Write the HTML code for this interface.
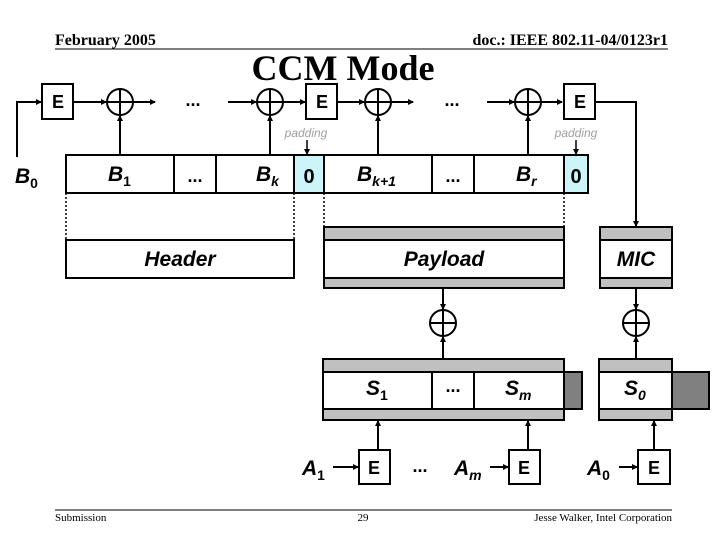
<!DOCTYPE html>
<html><head><meta charset="utf-8"><style>
html,body{margin:0;padding:0;background:#fff;}
svg{display:block;}
.s{font-family:"Liberation Sans",Arial,sans-serif;font-weight:bold;}
.r{font-family:"Liberation Serif",serif;}
</style></head><body>
<svg width="720" height="540" viewBox="0 0 720 540" xmlns="http://www.w3.org/2000/svg">
<defs><marker id="a" markerWidth="6" markerHeight="6" refX="5" refY="3" orient="auto" markerUnits="userSpaceOnUse"><path d="M0,0 L6,3 L0,6 z" fill="#000"/></marker></defs>
<text x="55" y="45" class="r" font-weight="bold" font-size="16">February 2005</text>
<text x="668" y="45" class="r" font-weight="bold" font-size="16" text-anchor="end">doc.: IEEE 802.11-04/0123r1</text>
<line x1="55" y1="49" x2="668" y2="49" stroke="#000" stroke-width="1"/>
<text x="343" y="80" class="r" font-weight="bold" font-size="36" text-anchor="middle">CCM Mode</text>

<g stroke="#000" stroke-width="2" fill="none">
<!-- top chain -->
<polyline points="17,157 17,102 41,102" marker-end="url(#a)"/>
<line x1="73" y1="102" x2="106" y2="102" marker-end="url(#a)"/>
<line x1="133" y1="102" x2="155" y2="102" marker-end="url(#a)"/>
<line x1="228" y1="102" x2="256" y2="102" marker-end="url(#a)"/>
<line x1="283" y1="102" x2="305" y2="102" marker-end="url(#a)"/>
<line x1="337" y1="102" x2="364" y2="102" marker-end="url(#a)"/>
<line x1="391" y1="102" x2="413" y2="102" marker-end="url(#a)"/>
<line x1="487" y1="102" x2="514" y2="102" marker-end="url(#a)"/>
<line x1="541" y1="102" x2="562" y2="102" marker-end="url(#a)"/>
<polyline points="595,102 636,102 636,226" marker-end="url(#a)"/>
<line x1="120" y1="155" x2="120" y2="116" marker-end="url(#a)"/>
<line x1="270" y1="155" x2="270" y2="116" marker-end="url(#a)"/>
<line x1="378" y1="155" x2="378" y2="116" marker-end="url(#a)"/>
<line x1="528" y1="155" x2="528" y2="116" marker-end="url(#a)"/>
<line x1="307" y1="140" x2="307" y2="154" stroke-width="1.5" marker-end="url(#a)"/>
<line x1="576" y1="140" x2="576" y2="154" stroke-width="1.5" marker-end="url(#a)"/>
<rect x="42" y="84" width="31" height="35" fill="#fff"/>
<rect x="306" y="84" width="31" height="35" fill="#fff"/>
<rect x="564" y="84" width="31" height="35" fill="#fff"/>
<circle cx="120" cy="102" r="13"/><path d="M107,102H133M120,89V115"/>
<circle cx="270" cy="102" r="13"/><path d="M257,102H283M270,89V115"/>
<circle cx="378" cy="102" r="13"/><path d="M365,102H391M378,89V115"/>
<circle cx="528" cy="102" r="13"/><path d="M515,102H541M528,89V115"/>
<!-- block row -->
<rect x="294" y="155" width="30" height="38" fill="#ccf5fa" stroke="none"/>
<rect x="564" y="155" width="24" height="38" fill="#ccf5fa" stroke="none"/>
<rect x="66" y="155" width="522" height="38"/>
<path d="M174,155V193M216,155V193M294,155V193M324,155V193M432,155V193M474,155V193M564,155V193"/>
</g>
<g stroke="#000" stroke-width="1.5" stroke-dasharray="2,2">
<path d="M66,193V240M294,193V240M324,193V227M564,193V227"/>
</g>
<g stroke="#000" stroke-width="2">
<rect x="66" y="240" width="228" height="38" fill="#fff"/>
<rect x="324" y="227" width="240" height="61" fill="#c0c0c0"/>
<rect x="324" y="240" width="240" height="38" fill="#fff"/>
<rect x="600" y="227" width="72" height="61" fill="#c0c0c0"/>
<rect x="600" y="240" width="72" height="38" fill="#fff"/>
<g fill="none">
<line x1="443" y1="288" x2="443" y2="309" marker-end="url(#a)"/>
<line x1="636" y1="288" x2="636" y2="309" marker-end="url(#a)"/>
<line x1="443" y1="359" x2="443" y2="337" marker-end="url(#a)"/>
<line x1="636" y1="359" x2="636" y2="337" marker-end="url(#a)"/>
<circle cx="443" cy="323" r="13"/><path d="M430,323H456M443,310V336"/>
<circle cx="636" cy="323" r="13"/><path d="M623,323H649M636,310V336"/>
</g>
<rect x="564" y="372" width="18" height="37" fill="#808080"/>
<rect x="672" y="372" width="37" height="37" fill="#808080"/>
<rect x="323" y="359" width="241" height="61" fill="#c0c0c0"/>
<rect x="323" y="372" width="241" height="37" fill="#fff"/>
<path d="M432,372V409M474,372V409"/>
<rect x="599" y="359" width="73" height="61" fill="#c0c0c0"/>
<rect x="599" y="372" width="73" height="37" fill="#fff"/>
<g fill="none">
<line x1="378" y1="450" x2="378" y2="421" marker-end="url(#a)"/>
<line x1="528" y1="450" x2="528" y2="421" marker-end="url(#a)"/>
<line x1="654" y1="450" x2="654" y2="421" marker-end="url(#a)"/>
<line x1="333" y1="467" x2="358" y2="467" marker-end="url(#a)"/>
<line x1="490" y1="467" x2="508" y2="467" marker-end="url(#a)"/>
<line x1="619" y1="467" x2="637" y2="467" marker-end="url(#a)"/>
</g>
<rect x="359" y="450" width="31" height="34" fill="#fff"/>
<rect x="509" y="450" width="31" height="34" fill="#fff"/>
<rect x="638" y="450" width="32" height="34" fill="#fff"/>
</g>

<g class="s" font-size="18" text-anchor="middle">
<text x="58" y="108">E</text><text x="322" y="108">E</text><text x="580" y="108">E</text>
<text x="374" y="474">E</text><text x="524" y="474">E</text><text x="654" y="474">E</text>
<text x="193" y="106">...</text><text x="452" y="106">...</text>
<text x="195" y="182">...</text><text x="453" y="182">...</text><text x="453" y="392">...</text>
<text x="420" y="472">...</text>
<text x="309" y="183" font-size="20">0</text><text x="576" y="183" font-size="20">0</text>
</g>
<g class="s" font-size="21" font-style="italic">
<text x="15" y="183">B<tspan font-size="14" font-style="normal" dy="5">0</tspan></text>
<text x="108" y="181">B<tspan font-size="14" font-style="normal" dy="5">1</tspan></text>
<text x="256" y="181">B<tspan font-size="14" dy="5">k</tspan></text>
<text x="357" y="181">B<tspan font-size="14" dy="5">k+1</tspan></text>
<text x="516" y="181">B<tspan font-size="14" dy="5">r</tspan></text>
<text x="366" y="395">S<tspan font-size="14" font-style="normal" dy="5">1</tspan></text>
<text x="505" y="395">S<tspan font-size="14" dy="5">m</tspan></text>
<text x="624" y="395">S<tspan font-size="14" dy="5">0</tspan></text>
<text x="302" y="475">A<tspan font-size="14" font-style="normal" dy="5">1</tspan></text>
<text x="454" y="475">A<tspan font-size="14" dy="5">m</tspan></text>
<text x="587" y="475">A<tspan font-size="14" font-style="normal" dy="5">0</tspan></text>
<text x="180" y="266" text-anchor="middle">Header</text>
<text x="444" y="266" text-anchor="middle">Payload</text>
<text x="636" y="266" text-anchor="middle">MIC</text>
</g>
<g font-family="Liberation Sans,sans-serif" font-style="italic" font-size="12" fill="#a0a0a0" text-anchor="middle">
<text x="306" y="137">padding</text><text x="576" y="137">padding</text>
</g>
<line x1="55" y1="510" x2="672" y2="510" stroke="#000" stroke-width="1"/>
<g class="r" font-size="11">
<text x="55" y="521">Submission</text>
<text x="363" y="521" text-anchor="middle">29</text>
<text x="672" y="521" text-anchor="end">Jesse Walker, Intel Corporation</text>
</g>
</svg>
</body></html>
